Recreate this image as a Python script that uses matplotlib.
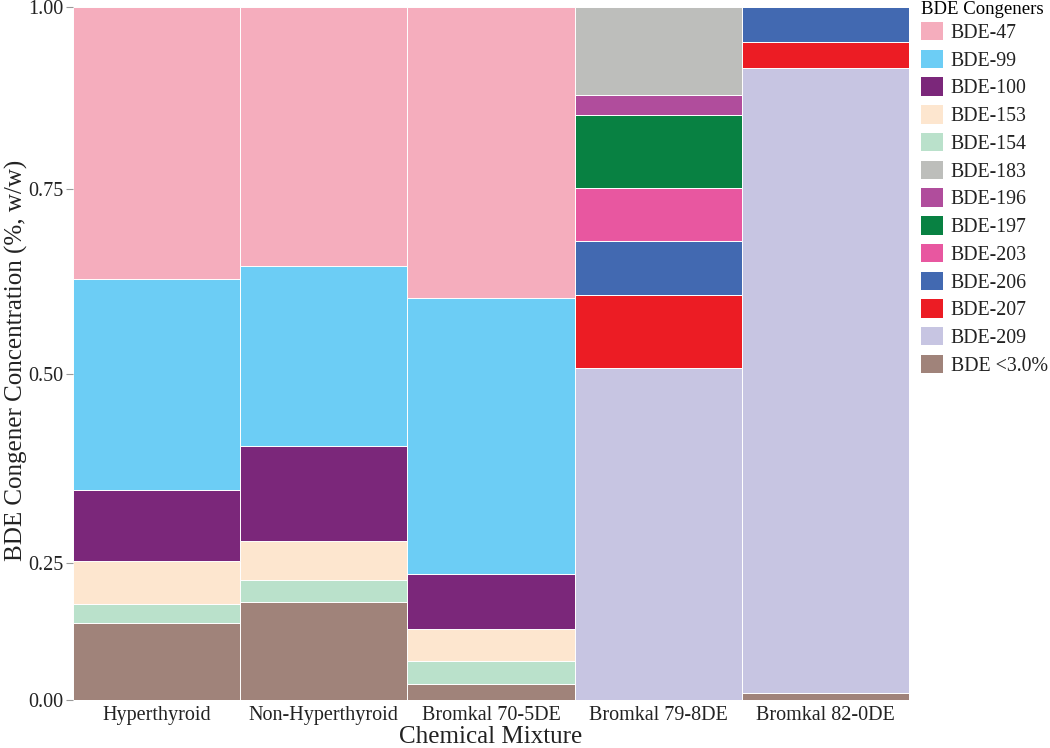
import numpy as np
import matplotlib
matplotlib.use("Agg")
import matplotlib.pyplot as plt
from matplotlib.patches import Patch

plt.rcParams['font.family'] = ['Liberation Serif', 'DejaVu Serif']

mixtures = ["Hyperthyroid", "Non-Hyperthyroid", "Bromkal 70-5DE", "Bromkal 79-8DE", "Bromkal 82-0DE"]

# legend order
congeners = ["BDE-47", "BDE-99", "BDE-100", "BDE-153", "BDE-154", "BDE-183", "BDE-196",
             "BDE-197", "BDE-203", "BDE-206", "BDE-207", "BDE-209", "BDE <3.0%"]
colors = ["#F5ADBD", "#6CCDF5", "#7B277A", "#FDE6CF", "#BAE1CB", "#BDBEBB", "#B04D9C",
          "#088142", "#E857A0", "#4269B1", "#EC1C24", "#C7C5E2", "#A0837A"]

# fractions per mixture (Hyperthyroid, Non-Hyperthyroid, 70-5DE, 79-8DE, 82-0DE)
bde47 = [0.371, 0.355, 0.397, 0.0, 0.0]
bde99 = [0.282, 0.240, 0.373, 0.0, 0.0]
bde100 = [0.095, 0.127, 0.101, 0.0, 0.0]
bde153 = [0.077, 0.060, 0.058, 0.0, 0.0]
bde154 = [0.034, 0.040, 0.042, 0.0, 0.0]
bde183 = [0.0, 0.0, 0.0, 0.121, 0.0]
bde196 = [0.0, 0.0, 0.0, 0.027, 0.0]
bde197 = [0.0, 0.0, 0.0, 0.100, 0.0]
bde203 = [0.0, 0.0, 0.0, 0.072, 0.0]
bde206 = [0.0, 0.0, 0.0, 0.073, 0.048]
bde207 = [0.0, 0.0, 0.0, 0.098, 0.036]
bde209 = [0.0, 0.0, 0.0, 0.509, 0.904]
bde_low = [0.141, 0.1785, 0.029, 0.0, 0.012]

series = {"BDE-47": bde47, "BDE-99": bde99, "BDE-100": bde100, "BDE-153": bde153,
          "BDE-154": bde154, "BDE-183": bde183, "BDE-196": bde196, "BDE-197": bde197,
          "BDE-203": bde203, "BDE-206": bde206, "BDE-207": bde207, "BDE-209": bde209,
          "BDE <3.0%": bde_low}
stack_order = ["BDE <3.0%", "BDE-209", "BDE-207", "BDE-206", "BDE-203", "BDE-197",
               "BDE-196", "BDE-183", "BDE-154", "BDE-153", "BDE-100", "BDE-99", "BDE-47"]
color_of = dict(zip(congeners, colors))

y_ticks = [0.0, 0.25, 0.5, 0.75, 1.0]
y_tick_labels = ["0.00", "0.25", "0.50", "0.75", "1.00"]
# axis positions of the ticks as drawn in the original (non-uniform axis)
tick_pos = [0.0, 0.1981, 0.470, 0.7374, 1.0]


def fwd(v):
    return np.interp(v, y_ticks, tick_pos)


def inv(f):
    return np.interp(f, tick_pos, y_ticks)


fig = plt.figure(figsize=(10.5, 7.48), dpi=100)
ax = fig.add_axes([73/1050, 48/748, 836/1050, 693/748])
ax.set_yscale('function', functions=(fwd, inv))

x = np.arange(len(mixtures))
bottom = np.zeros(len(mixtures))
for name in stack_order:
    vals = np.array(series[name])
    ax.bar(x, vals, bottom=bottom, width=1.0, color=color_of[name],
           edgecolor='white', linewidth=0.7)
    bottom += vals

ax.set_xlim(-0.5, len(mixtures) - 0.5)
ax.set_ylim(0, 1)
ax.set_yticks(y_ticks)
ax.set_yticklabels(y_tick_labels)
ax.yaxis.set_minor_locator(matplotlib.ticker.NullLocator())
ax.set_xticks(x)
ax.set_xticklabels(mixtures)
for s in ax.spines.values():
    s.set_visible(False)
ax.tick_params(axis='y', length=5, width=0.8, color='#999999', pad=2, labelsize=14.5, labelcolor='#222222')
ax.tick_params(axis='x', length=0, pad=4, labelsize=14.5, labelcolor='#222222')

ax.set_xlabel("Chemical Mixture", fontsize=18, color='#222222', labelpad=1)
ax.set_ylabel("BDE Congener Concentration (%, w/w)", fontsize=18, color='#222222')
ax.yaxis.set_label_coords(-0.054, 0.49)

handles = [Patch(facecolor=c, edgecolor='none') for c in colors]
leg = fig.legend(handles, congeners, title="BDE Congeners", loc='upper left',
                 bbox_to_anchor=(921/1050, 0.999), frameon=False, fontsize=14.3,
                 title_fontsize=13.5, handlelength=1.1, handleheight=1.05,
                 labelspacing=0.34, handletextpad=0.4, borderaxespad=0, borderpad=0.0)
leg._legend_box.align = "left"
leg._legend_box.sep = 3
for t in leg.get_texts():
    t.set_color('#222222')

fig.savefig("out.png", dpi=100)
